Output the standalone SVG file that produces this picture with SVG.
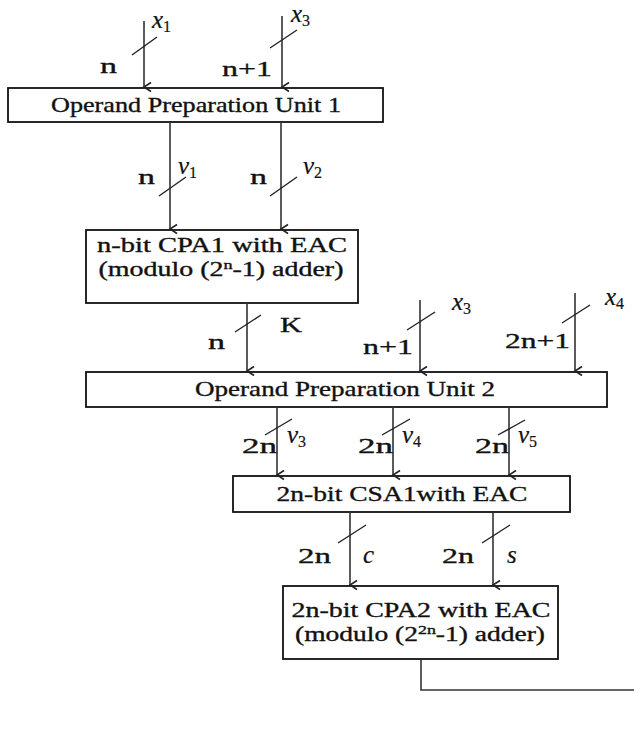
<svg xmlns="http://www.w3.org/2000/svg" width="634" height="742" viewBox="0 0 634 742">
<style>
  .box { fill: #fff; stroke: #111; stroke-width: 1.8; }
  .t { font-family: "Liberation Serif", "Times New Roman", serif; font-size: 22px; fill: #111; stroke: #111; stroke-width: 0.35; }
  .t2 { font-family: "Liberation Serif", "Times New Roman", serif; font-size: 20px; fill: #111; stroke: #111; stroke-width: 0.35; }
  .lbl { font-family: "Liberation Serif", "Times New Roman", serif; font-size: 22px; fill: #111; stroke: #111; stroke-width: 0.35; }
  .var { font-family: "Liberation Serif", "Times New Roman", serif; font-size: 25px; font-style: italic; fill: #111; stroke: #111; stroke-width: 0.2; }
  .sub { font-size: 16px; font-style: normal; }
  .ar { stroke: #333; stroke-width: 1.6; fill: none; }
  .sl { stroke: #222; stroke-width: 1.4; fill: none; }
</style>
<defs>
  <marker id="ah" markerUnits="userSpaceOnUse" markerWidth="12" markerHeight="12" viewBox="-6 -10 12 12" refX="0" refY="0" orient="auto-start-reverse">
    <path d="M-4.5,-7 L0,0 L4.5,-7" fill="none" stroke="#222" stroke-width="1.6"/>
  </marker>
</defs>

<g id="opu1">
  <rect class="box" x="8" y="88" width="375" height="34"/>
  <text class="t" x="196" y="112" text-anchor="middle" textLength="290" lengthAdjust="spacingAndGlyphs">Operand Preparation Unit 1</text>
</g>
<g id="cpa1">
  <rect class="box" x="86" y="230" width="272" height="73"/>
  <text class="t2" x="222" y="252" text-anchor="middle" textLength="250" lengthAdjust="spacingAndGlyphs">n-bit CPA1 with EAC</text>
  <text class="t2" x="221" y="276" text-anchor="middle" textLength="245" lengthAdjust="spacingAndGlyphs">(modulo (2<tspan font-size="13" dy="-7">n</tspan><tspan dy="7">-1) adder)</tspan></text>
</g>
<g id="opu2">
  <rect class="box" x="86" y="372" width="521" height="35"/>
  <text class="t" x="345" y="396" text-anchor="middle" textLength="300" lengthAdjust="spacingAndGlyphs">Operand Preparation Unit 2</text>
</g>
<g id="csa1">
  <rect class="box" x="233" y="476" width="337" height="36"/>
  <text class="t" x="402" y="501" text-anchor="middle" textLength="251" lengthAdjust="spacingAndGlyphs">2n-bit CSA1with EAC</text>
</g>
<g id="cpa2">
  <rect class="box" x="283" y="586" width="275" height="73"/>
  <text class="t2" x="421" y="617" text-anchor="middle" textLength="259" lengthAdjust="spacingAndGlyphs">2n-bit CPA2 with EAC</text>
  <text class="t2" x="420" y="641" text-anchor="middle" textLength="250" lengthAdjust="spacingAndGlyphs">(modulo (2<tspan font-size="13" dy="-7">2n</tspan><tspan dy="7">-1) adder)</tspan></text>
</g>

<g id="connectors">
  <line class="ar" x1="144" y1="21" x2="144" y2="87" marker-end="url(#ah)"/>
  <line class="sl" x1="132" y1="55" x2="157" y2="37"/>
  <line class="ar" x1="282" y1="16" x2="282" y2="87" marker-end="url(#ah)"/>
  <line class="sl" x1="270" y1="48" x2="297" y2="30"/>

  <line class="ar" x1="170" y1="122" x2="170" y2="229" marker-end="url(#ah)"/>
  <line class="sl" x1="159" y1="196" x2="186" y2="177"/>
  <line class="ar" x1="281" y1="122" x2="281" y2="229" marker-end="url(#ah)"/>
  <line class="sl" x1="270" y1="196" x2="297" y2="177"/>

  <line class="ar" x1="247" y1="303" x2="247" y2="371" marker-end="url(#ah)"/>
  <line class="sl" x1="235" y1="332" x2="261" y2="315"/>
  <line class="ar" x1="420" y1="300" x2="420" y2="371" marker-end="url(#ah)"/>
  <line class="sl" x1="407" y1="330" x2="435" y2="312"/>
  <line class="ar" x1="575" y1="293" x2="575" y2="371" marker-end="url(#ah)"/>
  <line class="sl" x1="562" y1="323" x2="590" y2="305"/>

  <line class="ar" x1="277" y1="407" x2="277" y2="475" marker-end="url(#ah)"/>
  <line class="sl" x1="265" y1="435" x2="292" y2="419"/>
  <line class="ar" x1="393" y1="407" x2="393" y2="475" marker-end="url(#ah)"/>
  <line class="sl" x1="382" y1="435" x2="410" y2="419"/>
  <line class="ar" x1="509" y1="407" x2="509" y2="475" marker-end="url(#ah)"/>
  <line class="sl" x1="498" y1="435" x2="525" y2="420"/>

  <line class="ar" x1="350" y1="512" x2="350" y2="585" marker-end="url(#ah)"/>
  <line class="sl" x1="338" y1="543" x2="366" y2="525"/>
  <line class="ar" x1="493" y1="512" x2="493" y2="585" marker-end="url(#ah)"/>
  <line class="sl" x1="482" y1="543" x2="510" y2="525"/>

  <polyline class="ar" points="421,659 421,690 634,690"/>
</g>

<g id="labels">
  <text class="lbl" x="100" y="73" textLength="17" lengthAdjust="spacingAndGlyphs">n</text>
  <text class="var" x="152" y="28">x<tspan class="sub" dy="4">1</tspan></text>
  <text class="lbl" x="222" y="76" textLength="50" lengthAdjust="spacingAndGlyphs">n+1</text>
  <text class="var" x="291" y="22">x<tspan class="sub" dy="4">3</tspan></text>

  <text class="lbl" x="138" y="184" textLength="17" lengthAdjust="spacingAndGlyphs">n</text>
  <text class="var" x="178" y="174">v<tspan class="sub" dy="4">1</tspan></text>
  <text class="lbl" x="250" y="184" textLength="17" lengthAdjust="spacingAndGlyphs">n</text>
  <text class="var" x="303" y="174">v<tspan class="sub" dy="4">2</tspan></text>

  <text class="lbl" x="208" y="349" textLength="17" lengthAdjust="spacingAndGlyphs">n</text>
  <text class="lbl" x="280" y="332" textLength="22" lengthAdjust="spacingAndGlyphs">K</text>
  <text class="lbl" x="363" y="354" textLength="50" lengthAdjust="spacingAndGlyphs">n+1</text>
  <text class="var" x="452" y="310">x<tspan class="sub" dy="4">3</tspan></text>
  <text class="lbl" x="505" y="348" textLength="65" lengthAdjust="spacingAndGlyphs">2n+1</text>
  <text class="var" x="605" y="305">x<tspan class="sub" dy="4">4</tspan></text>

  <text class="lbl" x="242" y="453" textLength="35" lengthAdjust="spacingAndGlyphs">2n</text>
  <text class="var" x="287" y="443">v<tspan class="sub" dy="4">3</tspan></text>
  <text class="lbl" x="358" y="453" textLength="35" lengthAdjust="spacingAndGlyphs">2n</text>
  <text class="var" x="402" y="443">v<tspan class="sub" dy="4">4</tspan></text>
  <text class="lbl" x="475" y="453" textLength="34" lengthAdjust="spacingAndGlyphs">2n</text>
  <text class="var" x="518" y="443">v<tspan class="sub" dy="4">5</tspan></text>

  <text class="lbl" x="298" y="563" textLength="33" lengthAdjust="spacingAndGlyphs">2n</text>
  <text class="var" x="363" y="563">c</text>
  <text class="lbl" x="442" y="563" textLength="32" lengthAdjust="spacingAndGlyphs">2n</text>
  <text class="var" x="507" y="563">s</text>
</g>
</svg>
